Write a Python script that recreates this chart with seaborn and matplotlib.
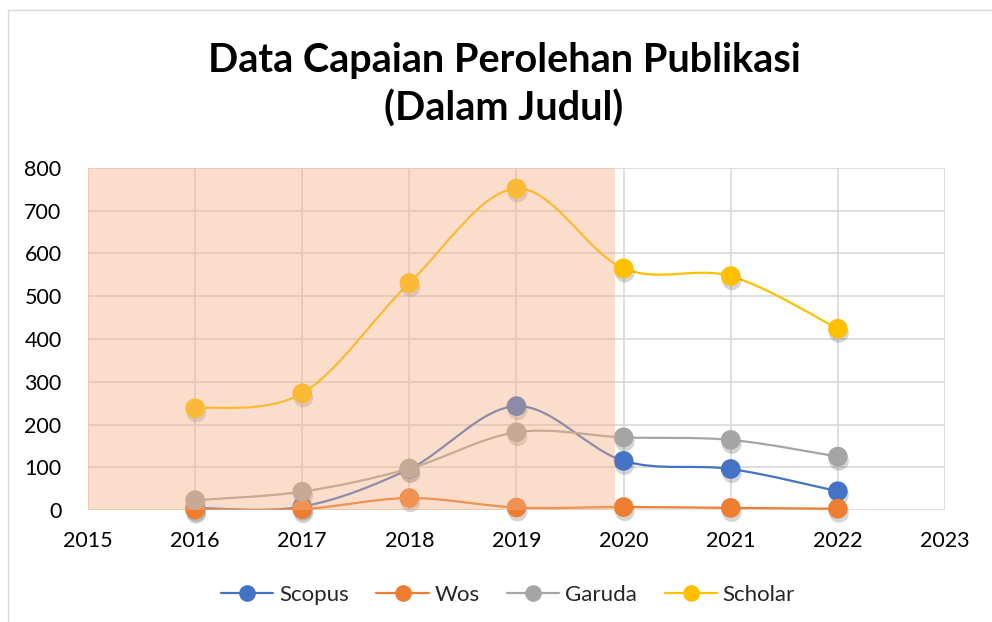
import numpy as np
import pandas as pd
import matplotlib
matplotlib.use("Agg")
import matplotlib.pyplot as plt
import matplotlib.patheffects as pe
from matplotlib.path import Path
from matplotlib.patches import PathPatch, Rectangle
from matplotlib.lines import Line2D
import seaborn as sns

years = [2016, 2017, 2018, 2019, 2020, 2021, 2022]
scopus = [5, 8, 96, 243, 115, 96, 44]
wos = [1, 2, 28, 6, 7, 5, 3]
garuda = [23, 43, 97, 182, 170, 164, 125]
scholar = [238, 273, 531, 752, 565, 547, 424]

series_names = ["Scopus", "Wos", "Garuda", "Scholar"]
colors = {"Scopus": "#4472C4", "Wos": "#ED7D31", "Garuda": "#A5A5A5", "Scholar": "#FFC000"}

df = pd.DataFrame({"Tahun": years, "Scopus": scopus, "Wos": wos,
                   "Garuda": garuda, "Scholar": scholar})
long_df = df.melt(id_vars="Tahun", var_name="Sumber", value_name="Judul")


def smooth_path(xs, ys):
    # Excel-like smoothed line: Catmull-Rom as cubic Bezier segments
    pts = np.column_stack([xs, ys]).astype(float)
    verts = [pts[0]]
    codes = [Path.MOVETO]
    n = len(pts)
    for i in range(n - 1):
        p0 = pts[i - 1] if i > 0 else pts[i]
        p1 = pts[i]
        p2 = pts[i + 1]
        p3 = pts[i + 2] if i + 2 < n else pts[i + 1]
        c1 = p1 + (p2 - p0) / 6.0
        c2 = p2 - (p3 - p1) / 6.0
        verts += [c1, c2, p2]
        codes += [Path.CURVE4] * 3
    return Path(verts, codes)


sns.set_theme(style="white")
plt.rcParams["font.family"] = ["Lato", "DejaVu Sans"]

fig = plt.figure(figsize=(9.92, 6.22), dpi=100)
ax = fig.add_axes([0.0887, 0.180, 0.8639, 0.550])

for name in series_names:
    sub = long_df[long_df["Sumber"] == name]
    patch = PathPatch(smooth_path(sub["Tahun"].values, sub["Judul"].values),
                      facecolor="none", edgecolor=colors[name], lw=1.6, zorder=3)
    ax.add_patch(patch)

sns.scatterplot(data=long_df, x="Tahun", y="Judul", hue="Sumber", palette=colors,
                s=200, edgecolor="none", legend=False, ax=ax, zorder=4, clip_on=False,
                path_effects=[pe.SimplePatchShadow(offset=(0.8, -3), alpha=0.22, shadow_rgbFace="#444444"),
                              pe.Normal()])

# shaded period
ax.axvspan(2015, 2019.92, color="#F4B183", alpha=0.42, lw=0, zorder=6)

ax.set_xlim(2015, 2023)
ax.set_ylim(0, 800)
ax.set_xticks(range(2015, 2024))
ax.set_yticks(range(0, 801, 100))
ax.grid(True, color="#D9D9D9", lw=1.2)
ax.set_axisbelow(True)
for s in ax.spines.values():
    s.set_visible(False)
ax.tick_params(axis="both", length=0, labelsize=15.5, colors="#000000")
ax.tick_params(axis="x", pad=15)
ax.tick_params(axis="y", pad=19)
ax.set_xlabel("")
ax.set_ylabel("")

fig.text(0.508, 0.903, "Data Capaian Perolehan Publikasi", ha="center", va="center",
         fontsize=28.5, fontweight="bold", color="#000000")
fig.text(0.508, 0.826, "(Dalam Judul)", ha="center", va="center",
         fontsize=28.5, fontweight="bold", color="#000000")

handles = [Line2D([0], [0], color=colors[n], lw=1.6, marker="o", markersize=12,
                  markeredgewidth=0) for n in series_names]
fig.legend(handles, series_names, loc="center", bbox_to_anchor=(0.512, 0.043), ncol=4,
           frameon=False, fontsize=16, handlelength=2.35, columnspacing=1.25, handletextpad=0.25)

fig.add_artist(Rectangle((0.008, -0.01), 1.0, 0.994, transform=fig.transFigure,
                         fill=False, edgecolor="#D9D9D9", lw=1.0))

fig.savefig("out.png", dpi=100)
